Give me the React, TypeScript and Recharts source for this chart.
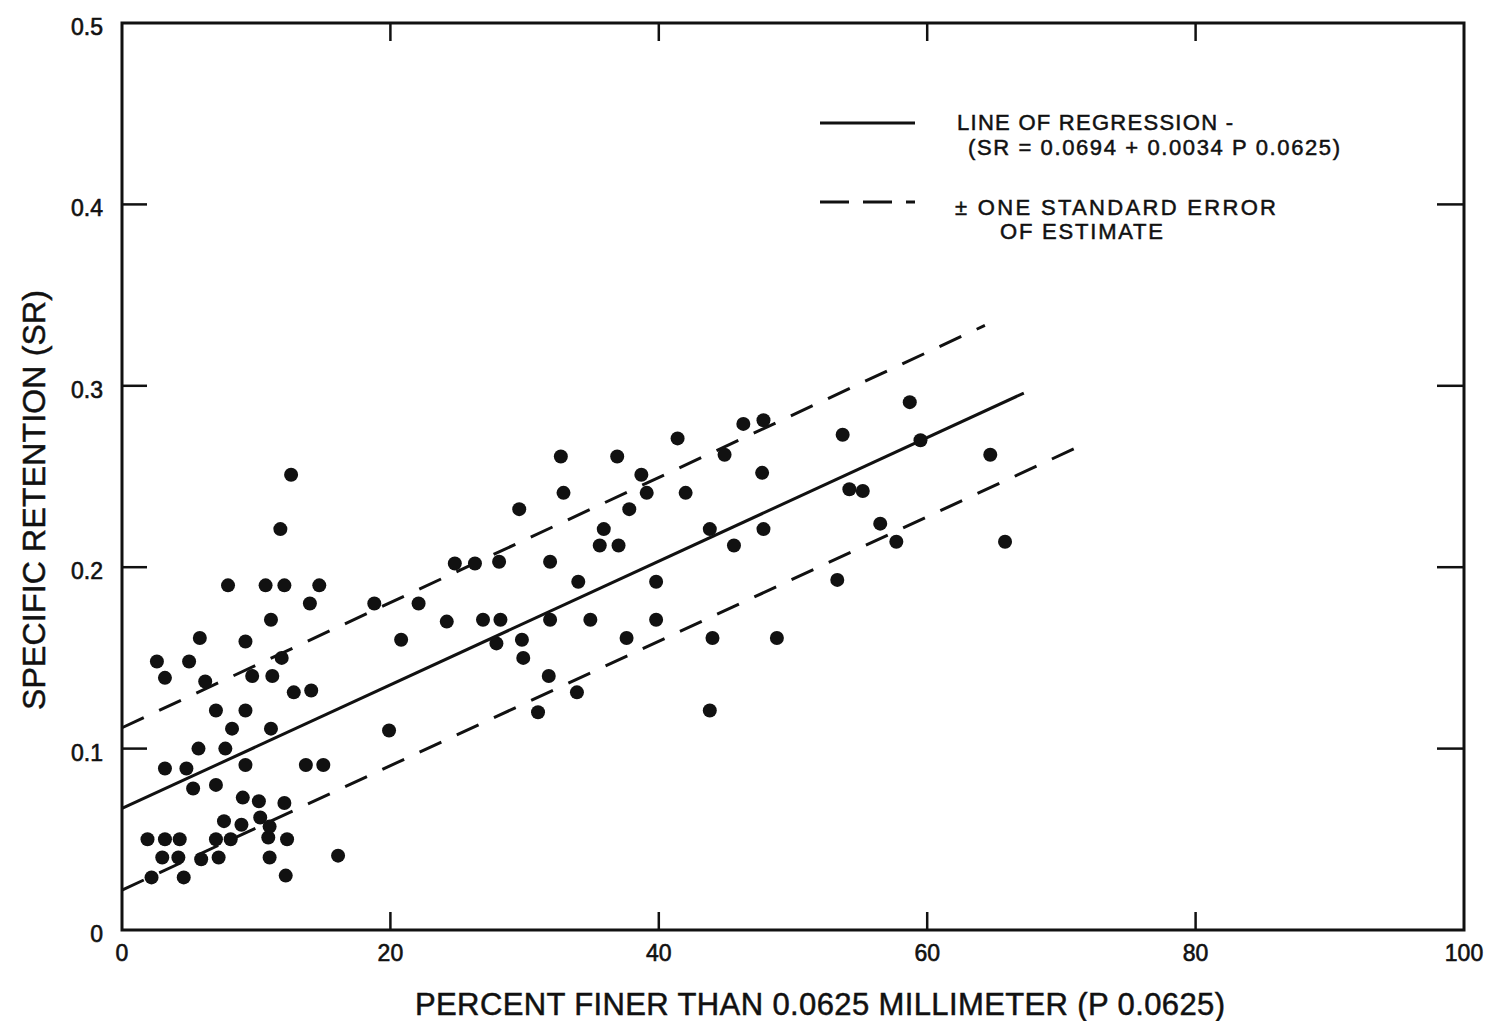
import { ScatterChart, Scatter, XAxis, YAxis, ReferenceArea, ReferenceLine } from 'recharts';

// Sample points: percent finer than 0.0625 mm vs specific retention
const pointX = [
    1.9, 2.2, 2.6, 3.0, 3.2, 3.2, 3.2, 4.2, 4.3, 4.6, 4.8, 5.0, 5.3, 5.7, 5.8, 5.9, 6.2, 7.0, 7.0, 7.0,
    7.2, 7.6, 7.7, 7.9, 8.1, 8.2, 8.9, 9.0, 9.2, 9.2, 9.2, 9.7, 10.2, 10.3, 10.7, 10.9, 11.0, 11.0, 11.1, 11.1,
    11.2, 11.8, 11.9, 12.1, 12.1, 12.2, 12.3, 12.6, 12.8, 13.7, 14.0, 14.1, 14.7, 15.0, 16.1, 18.8, 19.9, 20.8, 22.1, 24.2,
    24.8, 26.3, 26.9, 28.1, 27.9, 28.2, 29.6, 29.8, 29.9, 31.0, 31.8, 31.9, 31.9, 32.7, 32.9, 33.9, 34.0, 34.9, 35.6, 35.9,
    36.9, 37.0, 37.6, 37.8, 38.7, 39.1, 39.8, 39.8, 41.4, 42.0, 43.8, 43.8, 44.0, 44.9, 45.6, 46.3, 47.8, 47.7, 47.8, 48.8,
    53.3, 53.7, 54.2, 55.2, 56.5, 57.7, 58.7, 59.5, 64.7, 65.8,
];
const pointY = [
    0.05, 0.029, 0.148, 0.04, 0.05, 0.139, 0.089, 0.04, 0.05, 0.029, 0.089, 0.148, 0.078, 0.1, 0.161, 0.039, 0.137, 0.08, 0.121, 0.05,
    0.04, 0.06, 0.1, 0.19, 0.05, 0.111, 0.058, 0.073, 0.121, 0.091, 0.159, 0.14, 0.071, 0.062, 0.19, 0.051, 0.04, 0.057, 0.111, 0.171,
    0.14, 0.221, 0.15, 0.19, 0.07, 0.03, 0.05, 0.251, 0.131, 0.091, 0.18, 0.132, 0.19, 0.091, 0.041, 0.18, 0.11, 0.16, 0.18, 0.17,
    0.202, 0.202, 0.171, 0.203, 0.158, 0.171, 0.232, 0.16, 0.15, 0.12, 0.14, 0.203, 0.171, 0.261, 0.241, 0.131, 0.192, 0.171, 0.212, 0.221,
    0.261, 0.212, 0.161, 0.232, 0.251, 0.241, 0.171, 0.192, 0.271, 0.241, 0.121, 0.221, 0.161, 0.262, 0.212, 0.279, 0.281, 0.252, 0.221, 0.161,
    0.193, 0.273, 0.243, 0.242, 0.224, 0.214, 0.291, 0.27, 0.262, 0.214,
];

const xTicks = [0, 20, 40, 60, 80, 100];
const yTicks = [0, 0.1, 0.2, 0.3, 0.4, 0.5];

// line of regression and the +/- one standard error lines (end points)
const regressionX = [0, 67.2];
const regressionY = [0.067, 0.296];
const upperX = [0, 64.3];
const upperY = [0.1115, 0.3333];
const lowerX = [0, 71.0];
const lowerY = [0.022, 0.2655];

const points = pointX.map((x, i) => ({ x, y: pointY[i] }));
const seg = (xs: number[], ys: number[]) => xs.map((x, i) => ({ x, y: ys[i] }));

const W = 1498;
const H = 1021;
const MARGIN = { top: 23, right: 34, bottom: 0, left: 0 };
const PLOT_RIGHT = W - MARGIN.right;
const INK = '#111';
const FONT = '"Liberation Sans", Arial, sans-serif';

function XTick(props: any) {
    const { x, y, payload } = props;
    const v = payload.value;
    const inner = v !== 0 && v !== 100;
    return (
        <g>
            {inner && <line x1={x} x2={x} y1={y} y2={y - 18} stroke={INK} strokeWidth={2.5} />}
            {inner && <line x1={x} x2={x} y1={MARGIN.top} y2={MARGIN.top + 18} stroke={INK} strokeWidth={2.5} />}
            <text x={x} y={y + 31} textAnchor="middle" fontSize={23} fontFamily={FONT} fill={INK} stroke={INK} strokeWidth={0.6}>
                {v}
            </text>
        </g>
    );
}

function YTick(props: any) {
    const { x, y, payload } = props;
    const v = payload.value;
    const inner = v !== 0 && v !== 0.5;
    return (
        <g>
            {inner && <line x1={x} x2={x + 25} y1={y} y2={y} stroke={INK} strokeWidth={2.5} />}
            {inner && <line x1={PLOT_RIGHT - 27} x2={PLOT_RIGHT} y1={y} y2={y} stroke={INK} strokeWidth={2.5} />}
            <text x={x - 19} y={y + 12} textAnchor="end" fontSize={23} fontFamily={FONT} fill={INK} stroke={INK} strokeWidth={0.6}>
                {String(v)}
            </text>
        </g>
    );
}

const Dot = (props: any) => <circle cx={props.cx} cy={props.cy} r={7} fill={INK} />;

export default function App() {
    return (
        <div style={{ position: 'absolute', left: 0, top: 0, width: W, height: H, background: '#fff' }}>
            <ScatterChart width={W} height={H} margin={MARGIN}>
                <XAxis
                    type="number"
                    dataKey="x"
                    domain={[0, 100]}
                    ticks={xTicks}
                    height={91}
                    axisLine={false}
                    tickLine={false}
                    tickSize={0}
                    tickMargin={0}
                    tick={XTick}
                    interval={0}
                />
                <YAxis
                    type="number"
                    dataKey="y"
                    domain={[0, 0.5]}
                    ticks={yTicks}
                    width={122}
                    axisLine={false}
                    tickLine={false}
                    tickSize={0}
                    tickMargin={0}
                    tick={YTick}
                    interval={0}
                />
                <ReferenceArea x1={0} x2={100} y1={0} y2={0.5} fill="none" stroke={INK} strokeWidth={3} />
                <ReferenceLine segment={seg(regressionX, regressionY)} stroke={INK} strokeWidth={3} />
                <ReferenceLine segment={seg(upperX, upperY)} stroke={INK} strokeWidth={3} strokeDasharray="24 17" />
                <ReferenceLine segment={seg(lowerX, lowerY)} stroke={INK} strokeWidth={3} strokeDasharray="24 17" />
                <Scatter data={points} shape={Dot} isAnimationActive={false} />
            </ScatterChart>

            <svg
                width={W}
                height={H}
                style={{ position: 'absolute', left: 0, top: 0, pointerEvents: 'none' }}
                fontFamily={FONT}
                fill={INK}
                stroke={INK}
                strokeWidth={0.5}
            >
                {/* legend */}
                <line x1={820} x2={915} y1={123} y2={123} strokeWidth={3} />
                <text x={957} y={130} fontSize={22} textLength={276} lengthAdjust="spacing">LINE OF REGRESSION -</text>
                <text x={968} y={155} fontSize={22} textLength={372} lengthAdjust="spacing">(SR = 0.0694 + 0.0034 P 0.0625)</text>
                <line x1={820} x2={915} y1={202} y2={202} strokeWidth={3} strokeDasharray="29 14" />
                <text x={955} y={215} fontSize={22} textLength={321} lengthAdjust="spacing">± ONE STANDARD ERROR</text>
                <text x={1000} y={239} fontSize={22} textLength={163} lengthAdjust="spacing">OF ESTIMATE</text>

                {/* axis titles */}
                <text x={820} y={1015} fontSize={31} textAnchor="middle" textLength={810} lengthAdjust="spacing">
                    PERCENT FINER THAN 0.0625 MILLIMETER (P 0.0625)
                </text>
                <text
                    x={0}
                    y={0}
                    fontSize={32}
                    textAnchor="middle"
                    textLength={420}
                    lengthAdjust="spacing"
                    transform="translate(45, 500) rotate(-90)"
                >
                    SPECIFIC RETENTION (SR)
                </text>
            </svg>
        </div>
    );
}
